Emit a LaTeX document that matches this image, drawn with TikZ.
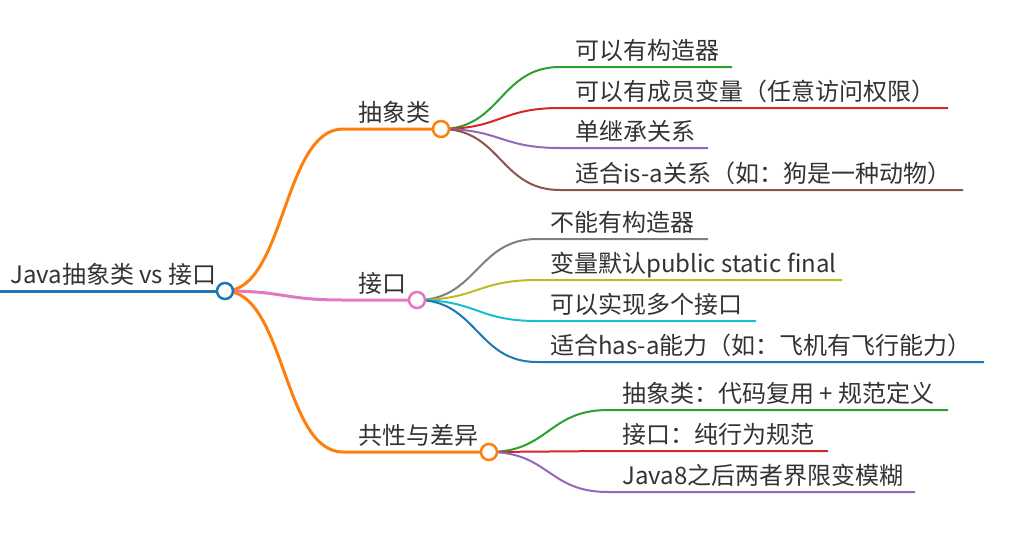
\documentclass[tikz,border=0pt]{standalone}
\usepackage{fontspec}
\setmainfont{Noto Sans CJK SC}
\definecolor{cblue}{HTML}{1F77B4}
\definecolor{corange}{HTML}{FF7F0E}
\definecolor{cgreen}{HTML}{2CA02C}
\definecolor{cred}{HTML}{D62728}
\definecolor{cpurple}{HTML}{9467BD}
\definecolor{cbrown}{HTML}{8C564B}
\definecolor{cpink}{HTML}{E377C2}
\definecolor{cgray}{HTML}{7F7F7F}
\definecolor{colive}{HTML}{BCBD22}
\definecolor{ccyan}{HTML}{17BECF}
\definecolor{txt}{HTML}{333333}
\begin{document}
\begin{tikzpicture}[x=1pt,y=-1pt,
  lbl/.style={anchor=base west, inner sep=0pt, font=\fontsize{24}{28}\selectfont, text=txt},
  dot/.style={circle, draw, fill=white, minimum size=16pt, inner sep=0pt, line width=2.5pt},
  lone/.style={line width=3pt},
  ltwo/.style={line width=2pt},
  curv/.style={to path={.. controls +(60,0) and +(-60,0) .. (\tikztotarget)}}]
\useasboundingbox (0,0) rectangle (1027,544);
% centres of the circles
\coordinate (c-root) at (225,291);
\coordinate (c-abs) at (441,129);
\coordinate (c-ifc) at (417,300);
\coordinate (c-cmp) at (489,452);
% line starts of level 1
\coordinate (r0) at (0,291);
\coordinate (s-abs) at (343,129);
\coordinate (s-ifc) at (343,300);
\coordinate (s-cmp) at (343,452);
% level 2 line starts / ends
\coordinate (a1s) at (560,67);  \coordinate (a1e) at (732,67);
\coordinate (a2s) at (560,108); \coordinate (a2e) at (948,108);
\coordinate (a3s) at (560,148); \coordinate (a3e) at (708,148);
\coordinate (a4s) at (560,190); \coordinate (a4e) at (963,190);
\coordinate (i1s) at (537,239); \coordinate (i1e) at (708,239);
\coordinate (i2s) at (537,280); \coordinate (i2e) at (842,280);
\coordinate (i3s) at (537,321); \coordinate (i3e) at (756,321);
\coordinate (i4s) at (537,362); \coordinate (i4e) at (984,362);
\coordinate (k1s) at (608,410); \coordinate (k1e) at (948,410);
\coordinate (k2s) at (608,451); \coordinate (k2e) at (828,451);
\coordinate (k3s) at (608,492); \coordinate (k3e) at (915,492);

% root line
\draw[lone,cblue] (r0) -- (c-root);
% level 1 connectors
\draw[lone,corange] (c-root) to[curv] (s-abs) -- (c-abs);
\draw[lone,cpink] (c-root) to[curv] (s-ifc) -- (c-ifc);
\draw[lone,corange] (c-root) to[curv] (s-cmp) -- (c-cmp);
% level 2 connectors
\draw[ltwo,cgreen]  (c-abs) to[curv] (a1s) -- (a1e);
\draw[ltwo,cred]    (c-abs) to[curv] (a2s) -- (a2e);
\draw[ltwo,cpurple] (c-abs) to[curv] (a3s) -- (a3e);
\draw[ltwo,cbrown]  (c-abs) to[curv] (a4s) -- (a4e);
\draw[ltwo,cgray]   (c-ifc) to[curv] (i1s) -- (i1e);
\draw[ltwo,colive]  (c-ifc) to[curv] (i2s) -- (i2e);
\draw[ltwo,ccyan]   (c-ifc) to[curv] (i3s) -- (i3e);
\draw[ltwo,cblue]   (c-ifc) to[curv] (i4s) -- (i4e);
\draw[ltwo,cgreen]  (c-cmp) to[curv] (k1s) -- (k1e);
\draw[ltwo,cred]    (c-cmp) to[curv] (k2s) -- (k2e);
\draw[ltwo,cpurple] (c-cmp) to[curv] (k3s) -- (k3e);

% circles
\node[dot,draw=cblue] (root) at (c-root) {};
\node[dot,draw=corange] (abs) at (c-abs) {};
\node[dot,draw=cpink] (ifc) at (c-ifc) {};
\node[dot,draw=corange] (cmp) at (c-cmp) {};

% labels
\node[lbl] (t-root) at (10,283) {Java抽象类 vs 接口};
\node[lbl] (t-abs) at (358,121) {抽象类};
\node[lbl] (t-ifc) at (358,292) {接口};
\node[lbl] (t-cmp) at (358,444) {共性与差异};
\node[lbl] (t-a1) at (575,59) {可以有构造器};
\node[lbl] (t-a2) at (575,100) {可以有成员变量（任意访问权限）};
\node[lbl] (t-a3) at (575,140) {单继承关系};
\node[lbl] (t-a4) at (575,182) {适合is-a关系（如：狗是一种动物）};
\node[lbl] (t-i1) at (550,231) {不能有构造器};
\node[lbl] (t-i2) at (550,272) {变量默认public static final};
\node[lbl] (t-i3) at (550,313) {可以实现多个接口};
\node[lbl] (t-i4) at (550,354) {适合has-a能力（如：飞机有飞行能力）};
\node[lbl] (t-k1) at (622,402) {抽象类：代码复用 + 规范定义};
\node[lbl] (t-k2) at (622,443) {接口：纯行为规范};
\node[lbl] (t-k3) at (622,484) {Java8之后两者界限变模糊};
\end{tikzpicture}
\end{document}
